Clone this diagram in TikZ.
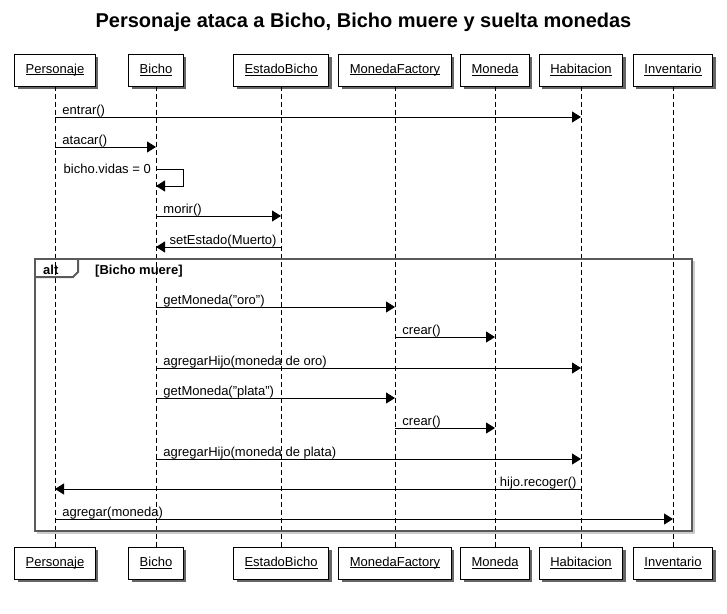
\documentclass[tikz,border=0pt]{standalone}
\usepackage{fontspec}
\setmainfont{Liberation Sans}
\usetikzlibrary{positioning,arrows.meta,shadows}
\definecolor{framegray}{HTML}{5A5A5A}
\newcommand\ulname[1]{\setbox0\hbox{#1}\rlap{\rule[-1.6pt]{\wd0}{0.7pt}}\box0}
\tikzset{
  partbox/.style={draw, fill=white, line width=0.8pt, minimum height=32pt, inner xsep=11pt,
    font=\fontsize{13}{15}\selectfont,
    drop shadow={shadow xshift=3pt, shadow yshift=-3pt, fill=black!60, opacity=1}},
  lifeline/.style={dash pattern=on 5pt off 3pt, line width=0.8pt},
  msg/.style={-{Triangle[length=9pt,width=11pt]}, line width=0.9pt},
  msglabel/.style={font=\fontsize{13}{15}\selectfont, inner sep=0pt},
  altframe/.style={draw=framegray, line width=2pt},
  altshadow/.style={draw=black!20, line width=1.5pt},
  altlabel/.style={font=\fontsize{13}{15}\selectfont\bfseries, inner sep=0pt},
}

\begin{document}
\begin{tikzpicture}[x=1pt, y=-1pt]
  \useasboundingbox (0,0) rectangle (727,613);
  \node[font=\fontsize{20}{24}\selectfont\bfseries] (title) at (363.5,22)
    {Personaje ataca a Bicho, Bicho muere y suelta monedas};
  % participantes y lineas de vida
  \foreach \n/\x in {Personaje/55, Bicho/156, EstadoBicho/281, MonedaFactory/395,
                     Moneda/495, Habitacion/581, Inventario/673} {
    \node[partbox] (\n-top) at (\x,70) {\ulname{\n}};
    \node[partbox] (\n-bot) at (\x,563) {\ulname{\n}};
    \draw[lifeline] (\n-top) -- (\n-bot);
  }
  % bloque alt
  \draw[altshadow] (37,533) -- (694,533) -- (694,261);
  \draw[altframe] (35,259) rectangle (692,531);
  \draw[altframe] (35,277) -- (73,277) -- (78,272) -- (78,259);
  \node[altlabel, anchor=base west] (altkw) at (43,274) {alt};
  \node[altlabel, anchor=base west] (altcond) at (95,274) {[Bicho muere]};
  % mensajes de izquierda a derecha
  \foreach \a/\b/\y/\t in {Personaje/Habitacion/117/entrar(),
                           Personaje/Bicho/147/atacar(),
                           Bicho/EstadoBicho/216/morir(),
                           Bicho/MonedaFactory/307/getMoneda("oro"),
                           MonedaFactory/Moneda/337/crear(),
                           Bicho/Habitacion/368/agregarHijo(moneda de oro),
                           Bicho/MonedaFactory/398/getMoneda("plata"),
                           MonedaFactory/Moneda/428/crear(),
                           Bicho/Habitacion/459/agregarHijo(moneda de plata),
                           Personaje/Inventario/519/agregar(moneda)}
    \draw[msg] (\a-top |- 0,\y) -- node[msglabel, pos=0, anchor=base west, xshift=7pt, yshift=3pt] {\t}
      (\b-top |- 0,\y);
  % mensajes de vuelta
  \draw[msg] (EstadoBicho-top |- 0,247) -- node[msglabel, pos=0, anchor=base east, xshift=-4pt, yshift=3pt]
    {setEstado(Muerto)} (Bicho-top |- 0,247);
  \draw[msg] (Habitacion-top |- 0,489) -- node[msglabel, pos=0, anchor=base east, xshift=-4pt, yshift=3pt]
    {hijo.recoger()} (Personaje-top |- 0,489);
  % mensaje a si mismo
  \draw[msg] (Bicho-top |- 0,169) -- ++(27,0) -- ++(0,17) -- (Bicho-top |- 0,186);
  \node[msglabel, anchor=base east] (vidas) at (151,173) {bicho.vidas = 0};
\end{tikzpicture}
\end{document}
